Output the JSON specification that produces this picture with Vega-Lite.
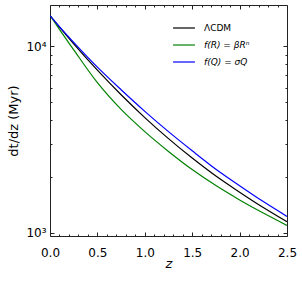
{
  "$schema": "https://vega.github.io/schema/vega-lite/v6.json",
  "width": 237,
  "height": 231,
  "autosize": {"type": "none"},
  "padding": {"left": 50, "top": 5, "right": 15, "bottom": 48},
  "config": {
    "font": "DejaVu Sans",
    "view": {"stroke": "#222222", "strokeWidth": 1},
    "axis": {"grid": false, "domain": false}
  },
  "data": {
    "values": [
      {"z": 0, "model": "ΛCDM", "dtdz": 14580},
      {"z": 0.125, "model": "ΛCDM", "dtdz": 12207},
      {"z": 0.25, "model": "ΛCDM", "dtdz": 10286},
      {"z": 0.5, "model": "ΛCDM", "dtdz": 7428},
      {"z": 0.75, "model": "ΛCDM", "dtdz": 5484},
      {"z": 1.0, "model": "ΛCDM", "dtdz": 4141},
      {"z": 1.25, "model": "ΛCDM", "dtdz": 3194},
      {"z": 1.5, "model": "ΛCDM", "dtdz": 2513},
      {"z": 1.75, "model": "ΛCDM", "dtdz": 2013},
      {"z": 2.0, "model": "ΛCDM", "dtdz": 1650},
      {"z": 2.25, "model": "ΛCDM", "dtdz": 1365},
      {"z": 2.5, "model": "ΛCDM", "dtdz": 1145},
      {"z": 0, "model": "f(R) = βRⁿ", "dtdz": 14580},
      {"z": 0.125, "model": "f(R) = βRⁿ", "dtdz": 11760},
      {"z": 0.25, "model": "f(R) = βRⁿ", "dtdz": 9550},
      {"z": 0.5, "model": "f(R) = βRⁿ", "dtdz": 6365},
      {"z": 0.75, "model": "f(R) = βRⁿ", "dtdz": 4578},
      {"z": 1.0, "model": "f(R) = βRⁿ", "dtdz": 3483},
      {"z": 1.25, "model": "f(R) = βRⁿ", "dtdz": 2728},
      {"z": 1.5, "model": "f(R) = βRⁿ", "dtdz": 2180},
      {"z": 1.75, "model": "f(R) = βRⁿ", "dtdz": 1789},
      {"z": 2.0, "model": "f(R) = βRⁿ", "dtdz": 1500},
      {"z": 2.25, "model": "f(R) = βRⁿ", "dtdz": 1276},
      {"z": 2.5, "model": "f(R) = βRⁿ", "dtdz": 1095},
      {"z": 0, "model": "f(Q) = σQ", "dtdz": 14580},
      {"z": 0.125, "model": "f(Q) = σQ", "dtdz": 12305},
      {"z": 0.25, "model": "f(Q) = σQ", "dtdz": 10480},
      {"z": 0.5, "model": "f(Q) = σQ", "dtdz": 7710},
      {"z": 0.75, "model": "f(Q) = σQ", "dtdz": 5835},
      {"z": 1.0, "model": "f(Q) = σQ", "dtdz": 4472},
      {"z": 1.25, "model": "f(Q) = σQ", "dtdz": 3481},
      {"z": 1.5, "model": "f(Q) = σQ", "dtdz": 2749},
      {"z": 1.75, "model": "f(Q) = σQ", "dtdz": 2190},
      {"z": 2.0, "model": "f(Q) = σQ", "dtdz": 1787},
      {"z": 2.25, "model": "f(Q) = σQ", "dtdz": 1469},
      {"z": 2.5, "model": "f(Q) = σQ", "dtdz": 1224}
    ]
  },
  "layer": [
    {
      "mark": {"type": "line", "strokeWidth": 1.2, "interpolate": "monotone", "clip": true},
      "encoding": {
        "x": {
          "field": "z", "type": "quantitative",
          "scale": {"domain": [0, 2.5], "nice": false, "zero": false},
          "axis": {
            "orient": "bottom",
            "values": [0, 0.1, 0.2, 0.3, 0.4, 0.5, 0.6, 0.7, 0.8, 0.9, 1.0, 1.1, 1.2, 1.3, 1.4, 1.5, 1.6, 1.7, 1.8, 1.9, 2.0, 2.1, 2.2, 2.3, 2.4, 2.5],
            "format": ".1f",
            "labelExpr": "abs(datum.value*2 - round(datum.value*2)) < 0.001 ? datum.label : ''",
            "tickSize": {"condition": {"test": "abs(datum.value*2 - round(datum.value*2)) < 0.001", "value": -4}, "value": -2},
            "tickColor": "#222222",
            "labelFontSize": 12,
            "labelColor": "#000000",
            "labelPadding": 15.5,
            "labelOverlap": false,
            "labelFlush": false,
            "title": "z",
            "titleFontStyle": "italic",
            "titleFontWeight": "normal",
            "titleFontSize": 13,
            "titleColor": "#000000",
            "titlePadding": -3
          }
        },
        "y": {
          "field": "dtdz", "type": "quantitative",
          "scale": {"type": "log", "domain": [961, 16600], "nice": false},
          "axis": {
            "orient": "left",
            "values": [1000, 2000, 3000, 4000, 5000, 6000, 7000, 8000, 9000, 10000],
            "labelExpr": "datum.value == 1000 ? '10³' : (datum.value == 10000 ? '10⁴' : '')",
            "tickSize": {"condition": {"test": "datum.value == 1000 || datum.value == 10000", "value": -4}, "value": -2},
            "tickColor": "#222222",
            "labelFontSize": 12,
            "labelColor": "#000000",
            "labelPadding": 8,
            "labelOverlap": false,
            "labelFlush": false,
            "title": "dt/dz (Myr)",
            "titleFontWeight": "normal",
            "titleFontSize": 13,
            "titleColor": "#000000",
            "titlePadding": 5
          }
        },
        "color": {
          "field": "model", "type": "nominal",
          "scale": {"domain": ["ΛCDM", "f(R) = βRⁿ", "f(Q) = σQ"], "range": ["#000000", "#008000", "#0000ff"]},
          "legend": {
            "orient": "none",
            "legendX": 122,
            "legendY": 11,
            "title": null,
            "symbolType": "stroke",
            "symbolSize": 480,
            "symbolStrokeWidth": 1.2,
            "labelFontSize": 9,
            "labelColor": "#000000",
            "labelOffset": 8,
            "rowPadding": 0,
            "padding": 0,
            "encode": {"labels": {"update": {"fontStyle": {"signal": "datum.label == 'ΛCDM' ? 'normal' : 'italic'"}}}}
          }
        }
      }
    },
    {
      "mark": {"type": "line", "opacity": 0},
      "encoding": {
        "detail": {"field": "model"},
        "x": {
          "field": "z", "type": "quantitative",
          "scale": {"domain": [0, 2.5], "nice": false, "zero": false},
          "axis": {
            "orient": "top",
            "values": [0, 0.1, 0.2, 0.3, 0.4, 0.5, 0.6, 0.7, 0.8, 0.9, 1.0, 1.1, 1.2, 1.3, 1.4, 1.5, 1.6, 1.7, 1.8, 1.9, 2.0, 2.1, 2.2, 2.3, 2.4, 2.5],
            "labels": false,
            "title": null,
            "tickSize": {"condition": {"test": "abs(datum.value*2 - round(datum.value*2)) < 0.001", "value": -4}, "value": -2},
            "tickColor": "#222222"
          }
        },
        "y": {
          "field": "dtdz", "type": "quantitative",
          "scale": {"type": "log", "domain": [961, 16600], "nice": false},
          "axis": {
            "orient": "right",
            "values": [1000, 2000, 3000, 4000, 5000, 6000, 7000, 8000, 9000, 10000],
            "labels": false,
            "title": null,
            "tickSize": {"condition": {"test": "datum.value == 1000 || datum.value == 10000", "value": -4}, "value": -2},
            "tickColor": "#222222"
          }
        }
      }
    }
  ],
  "resolve": {"axis": {"x": "independent", "y": "independent"}}
}
